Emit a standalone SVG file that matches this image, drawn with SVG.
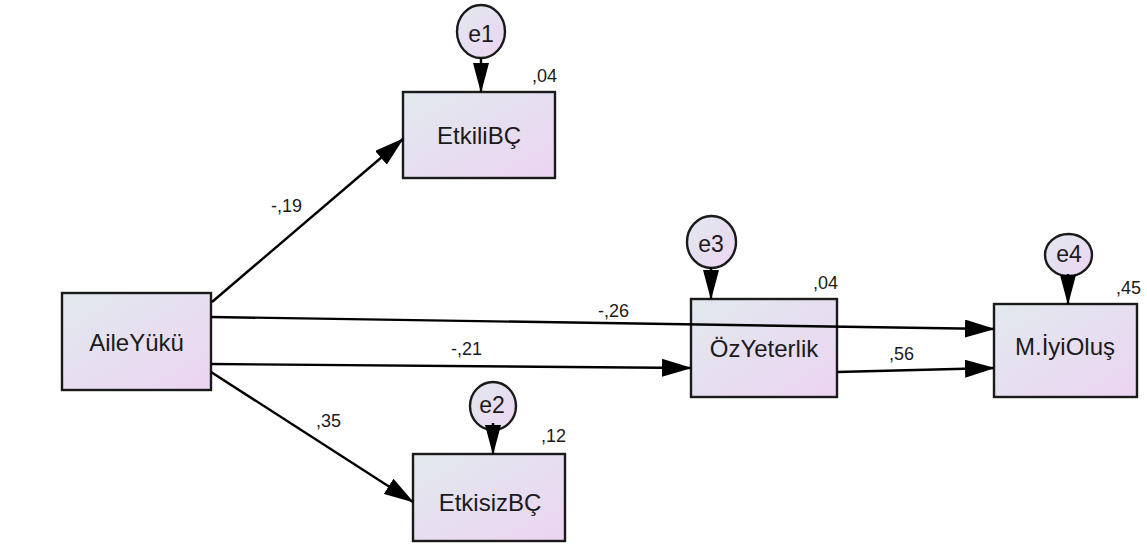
<svg xmlns="http://www.w3.org/2000/svg" width="1147" height="553" viewBox="0 0 1147 553">
  <defs>
    <linearGradient id="fill" x1="0" y1="0" x2="1" y2="1">
      <stop offset="0" stop-color="#e1e9ee"/>
      <stop offset="1" stop-color="#ecd4f2"/>
    </linearGradient>
    <marker id="arr" markerUnits="userSpaceOnUse" markerWidth="30" markerHeight="18" refX="29" refY="9" orient="auto">
      <path d="M0,0 L30,9 L0,18 z" fill="#000"/>
    </marker>
    <marker id="earr" markerUnits="userSpaceOnUse" markerWidth="30" markerHeight="18" refX="29" refY="9" orient="auto">
      <path d="M0,1 L30,9 L0,17 z" fill="#000"/>
    </marker>
  </defs>
  <style>
    .box { fill: url(#fill); stroke: #1a1a1a; stroke-width: 2.4; }
    .err { fill: url(#fill); stroke: #1a1a1a; stroke-width: 2.4; }
    .lbl { font-family: "Liberation Sans", Arial, sans-serif; font-size: 24px; fill: #1a1a1a; text-anchor: middle; }
    .elbl { font-family: "Liberation Sans", Arial, sans-serif; font-size: 23px; fill: #1a1a1a; text-anchor: middle; }
    .num { font-family: "Liberation Sans", Arial, sans-serif; font-size: 18px; fill: #1a1a1a; }
    .edge { stroke: #000; stroke-width: 2.4; fill: none; marker-end: url(#arr); }
    .eedge { stroke: #000; stroke-width: 2.4; fill: none; marker-end: url(#earr); }
  </style>
  <rect width="1147" height="553" fill="#ffffff"/>

  <g id="AileYuku">
    <rect class="box" x="62" y="293" width="149" height="97"/>
    <text class="lbl" x="136.5" y="351">AileYükü</text>
  </g>
  <g id="EtkiliBC">
    <rect class="box" x="403" y="92" width="152" height="86"/>
    <text class="lbl" x="479" y="144">EtkiliBÇ</text>
    <text class="num" x="532" y="82">,04</text>
  </g>
  <g id="e1">
    <ellipse class="err" cx="481" cy="31.5" rx="24" ry="26.5"/>
    <text class="elbl" x="481" y="42">e1</text>
  </g>
  <g id="EtkisizBC">
    <rect class="box" x="413" y="454" width="152" height="87"/>
    <text class="lbl" x="490" y="511">EtkisizBÇ</text>
    <text class="num" x="541" y="442">,12</text>
  </g>
  <g id="e2">
    <ellipse class="err" cx="493" cy="406" rx="23" ry="24"/>
    <text class="elbl" x="492" y="413">e2</text>
  </g>
  <g id="OzYeterlik">
    <rect class="box" x="691" y="299" width="146" height="98"/>
    <text class="lbl" x="764" y="357">ÖzYeterlik</text>
    <text class="num" x="813" y="289">,04</text>
  </g>
  <g id="e3">
    <ellipse class="err" cx="711.5" cy="242" rx="24.5" ry="26"/>
    <text class="elbl" x="711" y="252">e3</text>
  </g>
  <g id="MIyiOlus">
    <rect class="box" x="994" y="304" width="143" height="93"/>
    <text class="lbl" x="1065" y="355">M.İyiOluş</text>
    <text class="num" x="1116" y="294">,45</text>
  </g>
  <g id="e4">
    <ellipse class="err" cx="1068.5" cy="255" rx="23.5" ry="21"/>
    <text class="elbl" x="1069" y="262">e4</text>
  </g>

  <g id="connectors">
    <line class="edge" x1="212" y1="302" x2="403" y2="139"/>
    <line class="edge" x1="211" y1="317" x2="994" y2="329"/>
    <line class="edge" x1="211" y1="364" x2="691" y2="368"/>
    <line class="edge" x1="837" y1="372" x2="994" y2="368"/>
    <line class="edge" x1="211" y1="372" x2="413" y2="502"/>
    <line class="eedge" x1="481" y1="58" x2="481" y2="92"/>
    <line class="eedge" x1="711" y1="267" x2="711" y2="299"/>
    <line class="eedge" x1="1068" y1="274" x2="1068" y2="304"/>
    <line class="eedge" x1="493" y1="423" x2="493" y2="454"/>
    <text class="num" x="271" y="212">-,19</text>
    <text class="num" x="598" y="317">-,26</text>
    <text class="num" x="451" y="355">-,21</text>
    <text class="num" x="889" y="360">,56</text>
    <text class="num" x="316" y="427">,35</text>
  </g>
</svg>
